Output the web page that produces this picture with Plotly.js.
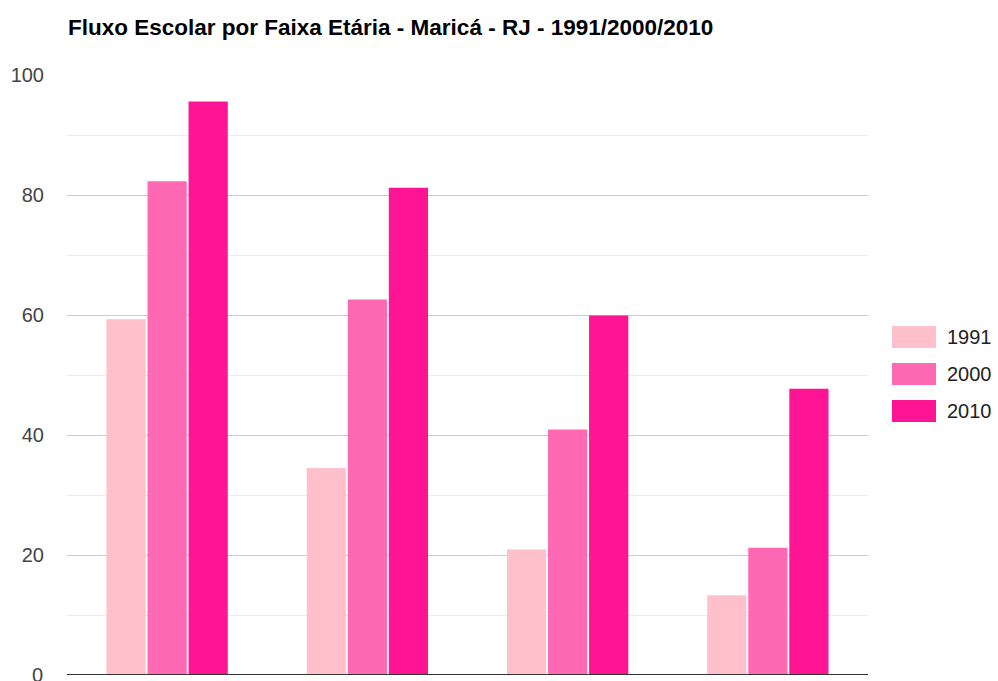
<!DOCTYPE html>
<html>
<head>
<meta charset="utf-8">
<script src="https://cdn.plot.ly/plotly-3.0.1.min.js"></script>
<style>html,body{margin:0;padding:0;background:#fff;}#chart{width:998px;height:681px;}</style>
</head>
<body>
<div id="chart"></div>
<script>
// Data
const categories = [
  "5 a 6 anos na escola",
  "11 a 13 anos nos anos finais do fundamental",
  "15 a 17 anos com fundamental completo",
  "18 a 20 anos com médio completo"
];
const seriesNames = ["1991", "2000", "2010"];
const values1991 = [59.3, 34.5, 20.9, 13.3];
const values2000 = [82.3, 62.6, 40.9, 21.2];
const values2010 = [95.6, 81.2, 59.9, 47.7];
const colors = ["#FFC0CB", "#FF69B4", "#FF1493"];
const titleText = "Fluxo Escolar por Faixa Etária - Maricá - RJ - 1991/2000/2010";

const allValues = [values1991, values2000, values2010];
const traces = seriesNames.map((name, i) => ({
  type: "bar",
  name: name,
  x: categories,
  y: allValues[i],
  marker: { color: colors[i], line: { width: 0 } },
  hoverinfo: "x+y+name"
}));

// Geometry (pixels)
const W = 998, H = 681;
const plotL = 67, plotR = 868, plotT = 75, plotB = 675;
const pw = plotR - plotL, ph = plotB - plotT;
const px2x = px => (px - plotL) / pw;
const py2y = py => (plotB - py) / ph;
const tickFont = { family: "Liberation Sans, Arial, sans-serif", size: 20, color: "#444444" };

// Custom legend
const shapes = [];
const annotations = [];
const rowCenters = [337, 374, 411];
seriesNames.forEach((name, i) => {
  const cy = rowCenters[i];
  shapes.push({
    type: "rect", xref: "paper", yref: "paper",
    x0: px2x(892), x1: px2x(936), y0: py2y(cy + 11), y1: py2y(cy - 11),
    fillcolor: colors[i], line: { width: 0 }
  });
  annotations.push({
    xref: "paper", yref: "paper", x: px2x(945), y: py2y(cy),
    xanchor: "left", yanchor: "middle", showarrow: false,
    text: name, font: { family: "Liberation Sans, Arial, sans-serif", size: 20, color: "#222222" }
  });
});
// "0" tick label, clipped by the bottom edge as in the reference
annotations.push({
  xref: "paper", yref: "y", x: px2x(45), y: 0,
  xanchor: "right", yanchor: "middle", showarrow: false,
  text: "0", font: tickFont
});

const layout = {
  width: W, height: H,
  margin: { l: plotL, r: W - plotR, t: plotT, b: H - plotB, pad: 0 },
  paper_bgcolor: "#ffffff",
  plot_bgcolor: "#ffffff",
  showlegend: false,
  barmode: "group",
  bargap: 0.385,
  bargroupgap: 0.045,
  title: {
    text: "<b>" + titleText + "</b>",
    font: { family: "Liberation Sans, Arial, sans-serif", size: 22.5, color: "#000000" },
    xref: "container", yref: "container",
    x: 68 / W, xanchor: "left",
    y: 1 - 27 / H, yanchor: "middle"
  },
  xaxis: {
    type: "category",
    showticklabels: false,
    showgrid: false,
    showline: false,
    zeroline: false,
    ticks: "",
    automargin: false,
    fixedrange: true
  },
  yaxis: {
    range: [0, 100],
    tickvals: [20, 40, 60, 80, 100],
    showgrid: true,
    gridcolor: "#cccccc",
    gridwidth: 1,
    minor: { tickvals: [10, 30, 50, 70, 90], showgrid: true, gridcolor: "#ebebeb", gridwidth: 1 },
    zeroline: false,
    showline: false,
    ticks: "",
    ticklabelstandoff: 22,
    tickfont: tickFont,
    automargin: false,
    fixedrange: true
  },
  shapes: shapes.concat([{
    type: "line", xref: "paper", yref: "y",
    x0: 0, x1: 1, y0: 0, y1: 0,
    line: { color: "#333333", width: 2 }
  }]),
  annotations: annotations
};

Plotly.newPlot("chart", traces, layout, { displayModeBar: false, staticPlot: true });
</script>
</body>
</html>
